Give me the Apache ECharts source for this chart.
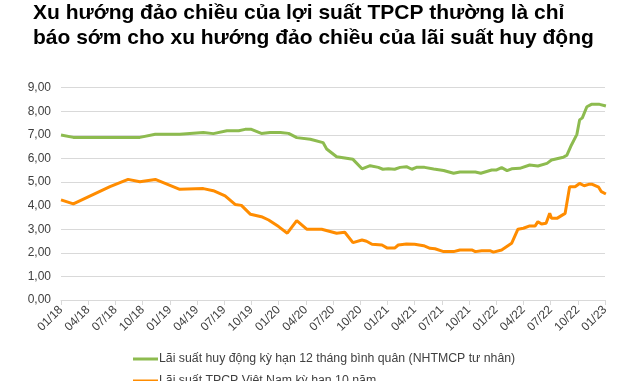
<!DOCTYPE html>
<html><head><meta charset="utf-8">
<script src="https://cdn.jsdelivr.net/npm/echarts@6/dist/echarts.min.js"></script>
<style>html,body{margin:0;padding:0;background:#fff}#c{width:640px;height:381px}</style>
</head><body><div id="c"></div>
<script>
const titleLines = ["Xu hướng đảo chiều của lợi suất TPCP thường là chỉ", "báo sớm cho xu hướng đảo chiều của lãi suất huy động"];
const seriesNames = ["Lãi suất huy động kỳ hạn 12 tháng bình quân (NHTMCP tư nhân)", "Lãi suất TPCP Việt Nam kỳ hạn 10 năm"];
const yTicks = [0, 1, 2, 3, 4, 5, 6, 7, 8, 9];
// x positions in months since 01/2018
const depositMonths = [0,1.36,8.7,10.4,13.1,15.7,16.8,18.3,19.6,20.3,21.0,22.1,23.05,24.2,25.1,26.0,27.5,28.9,29.3,30.4,32.2,33.2,34.1,35.0,35.5,36.1,36.8,37.4,38.1,38.7,39.2,40.1,41.1,42.2,43.3,44.0,45.7,46.3,47.5,48.05,48.6,49.2,49.7,50.6,51.7,52.6,53.6,54.1,55.4,55.8,56.3,56.9,57.2,57.5,58.0,58.5,59.4,60.1];
const depositRate = [6.99,6.89,6.89,7.02,7.02,7.10,7.05,7.17,7.17,7.23,7.23,7.06,7.10,7.10,7.06,6.88,6.81,6.67,6.40,6.07,5.96,5.56,5.69,5.62,5.54,5.56,5.54,5.62,5.65,5.54,5.62,5.62,5.55,5.49,5.37,5.42,5.42,5.37,5.51,5.51,5.61,5.48,5.56,5.58,5.72,5.68,5.79,5.93,6.05,6.14,6.57,7.02,7.63,7.72,8.19,8.29,8.29,8.22];
const bondMonths = [0,1.36,5.4,7.4,8.7,10.4,13.1,15.7,16.8,18.1,19.2,19.9,20.9,22.1,22.9,24.0,24.96,26.0,27.1,28.75,30.4,31.3,32.2,33.2,33.7,34.3,35.4,36.0,36.8,37.2,38.1,39.0,40.0,40.7,41.25,42.2,43.3,44.0,45.3,45.7,46.4,47.3,47.7,48.6,49.7,50.4,51.0,51.7,52.3,52.6,53.0,53.5,53.9,54.1,54.7,55.6,56.1,56.3,56.7,57.2,57.7,58.2,58.6,59.3,59.6,60.1];
const bondYield = [4.24,4.07,4.80,5.11,5.01,5.11,4.69,4.72,4.63,4.41,4.05,4.01,3.63,3.53,3.39,3.11,2.83,3.36,3.00,3.00,2.83,2.87,2.43,2.54,2.49,2.36,2.33,2.20,2.20,2.33,2.37,2.36,2.30,2.19,2.17,2.05,2.05,2.12,2.12,2.05,2.09,2.09,2.03,2.12,2.40,3.00,3.04,3.14,3.14,3.32,3.22,3.25,3.67,3.46,3.46,3.67,4.80,4.87,4.80,4.94,4.84,4.90,4.90,4.78,4.59,4.49];

function pairs(xs, ys){ return xs.map((x,i)=>[x, ys[i]]); }
function monthLabel(v){
  const m = Math.round(v);
  const mm = (m % 12) + 1, yy = 18 + Math.floor(m / 12);
  return (mm<10?'0':'') + mm + '/' + yy;
}
const legendBase = {
  orient:'vertical', left:128, icon:'rect', itemWidth:25, itemHeight:3, itemGap:0,
  textStyle:{fontFamily:'Liberation Sans, Arial', fontSize:12.3, color:'#404040', padding:[0,0,0,-4]}
};
const chart = echarts.init(document.getElementById('c'), null, {renderer:'canvas'});
chart.setOption({
  animation:false,
  backgroundColor:'#fff',
  title:{
    text: titleLines.join('\n'),
    left: 28, top: -4,
    textStyle:{fontFamily:'Liberation Sans, Arial', fontWeight:'bold', fontSize:21, lineHeight:25, color:'#000'}
  },
  legend:[
    Object.assign({}, legendBase, {top:348, data:[seriesNames[0]]}),
    Object.assign({}, legendBase, {top:370, data:[seriesNames[1]]})
  ],
  grid:{left:61, right:35, top:87.6, bottom:81, containLabel:false},
  xAxis:{
    type:'value', min:0, max:60, interval:3,
    axisLine:{show:true, lineStyle:{color:'#d9d9d9', width:1}},
    axisTick:{show:true, length:5, lineStyle:{color:'#d9d9d9'}},
    splitLine:{show:false},
    axisLabel:{rotate:45, margin:8, fontFamily:'Liberation Sans, Arial', fontSize:12, color:'#404040', formatter: monthLabel, showMinLabel:true, showMaxLabel:true}
  },
  yAxis:{
    type:'value', min:yTicks[0], max:yTicks[yTicks.length-1], interval:1,
    axisLine:{show:false}, axisTick:{show:false},
    splitLine:{lineStyle:{color:'#d9d9d9', width:1}},
    axisLabel:{margin:10, fontFamily:'Liberation Sans, Arial', fontSize:12, color:'#404040', formatter: v => v.toFixed(2).replace('.', ',')}
  },
  series:[
    {name:seriesNames[0], type:'line', data:pairs(depositMonths, depositRate), showSymbol:false, symbol:'none',
     lineStyle:{color:'#8dbb4f', width:3}, itemStyle:{color:'#8dbb4f'}},
    {name:seriesNames[1], type:'line', data:pairs(bondMonths, bondYield), showSymbol:false, symbol:'none',
     lineStyle:{color:'#ff8c00', width:3}, itemStyle:{color:'#ff8c00'}}
  ]
});
</script></body></html>
